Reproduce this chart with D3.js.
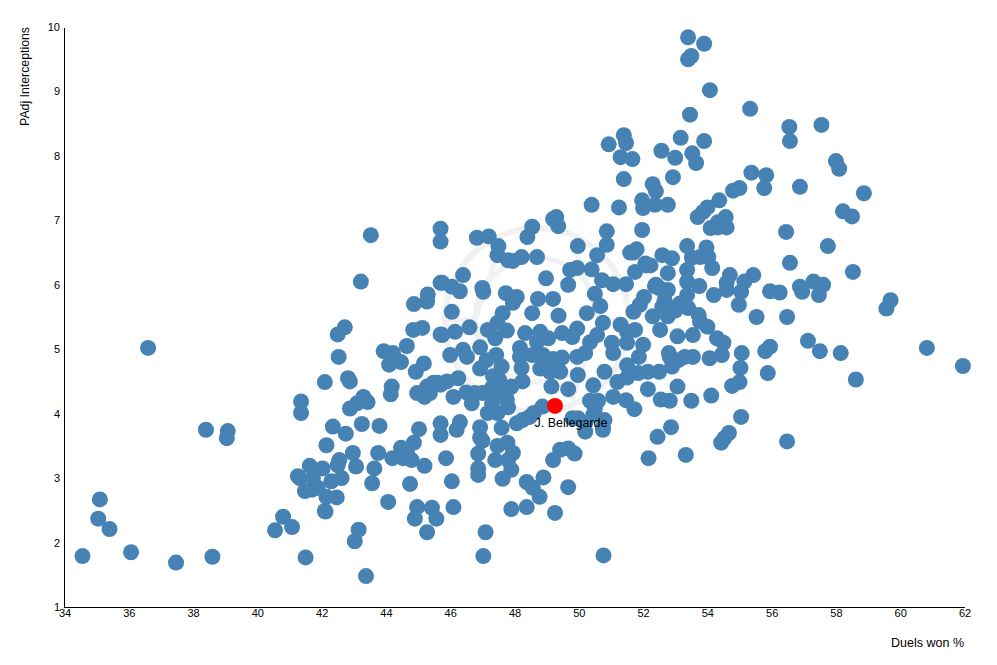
<!DOCTYPE html>
<html>
<head>
<meta charset="utf-8">
<script src="https://cdn.jsdelivr.net/npm/d3@7"></script>
<style>
html, body { margin: 0; padding: 0; background: #fff; }
svg { display: block; }
text { font-family: "Liberation Sans", Arial, sans-serif; fill: #000; }
.axis path { stroke: #000; stroke-width: 1; fill: none; shape-rendering: crispEdges; }
.axis text { font-size: 11px; }
</style>
</head>
<body>
<div id="chart"></div>
<script>
// [duels won %, padj interceptions]
var playerPoints = [
	[34.56,1.79],[35.1,2.67],[35.05,2.37],[35.4,2.21],[36.07,1.85],[37.47,1.69],[38.6,1.78],[36.6,5.02],
	[38.4,3.75],[39.08,3.73],[39.05,3.62],[40.55,2.19],[40.8,2.4],[41.08,2.24],[41.5,1.77],[43.38,1.48],
	[43.03,2.02],[43.15,2.2],[42.1,2.49],[41.36,4.19],[41.36,4.01],[42.1,4.49],[43.53,6.77],[43.22,6.05],
	[42.5,5.23],[42.72,5.34],[42.53,4.88],[42.82,4.55],[42.88,4.5],[42.88,4.08],[43.1,4.16],[43.43,4.18],
	[43.3,4.26],[42.35,3.8],[42.75,3.69],[43.25,3.84],[43.8,3.81],[42.15,3.51],[45.03,3.76],[45.7,3.85],
	[45.7,3.67],[42.97,3.39],[42.55,3.28],[42.5,3.2],[43.07,3.18],[43.76,3.39],[44.2,3.31],[44.47,3.47],
	[44.87,3.55],[44.65,3.41],[44.53,3.31],[44.8,3.28],[45.2,3.19],[43.64,3.15],[43.57,2.92],[44.75,2.91],
	[44.07,2.63],[41.63,3.19],[41.26,3.03],[41.32,3.0],[42.03,3.15],[41.73,3.0],[41.48,2.8],[41.7,2.82],
	[41.88,2.85],[42.3,2.95],[42.62,3.0],[42.15,2.71],[42.47,2.7],[42.12,2.48],[44.97,2.55],[45.43,2.54],
	[44.9,2.37],[45.57,2.37],[45.28,2.16],[43.93,4.97],[44.22,4.94],[44.1,4.76],[44.47,4.8],[44.65,5.05],
	[44.87,5.7],[45.3,5.85],[45.28,5.74],[44.85,5.3],[45.13,5.33],[44.93,4.65],[45.18,4.78],[44.18,4.42],
	[44.15,4.3],[45.48,4.48],[45.28,4.42],[44.97,4.32],[45.37,4.32],[45.2,4.26],[45.7,4.45],[45.7,6.03],
	[45.7,6.87],[45.7,6.67],[45.7,5.23],[46.83,6.73],[47.2,6.75],[47.5,6.6],[47.47,6.46],[47.8,6.38],
	[47.95,6.37],[48.22,6.43],[48.7,6.43],[48.55,6.9],[48.4,6.74],[49.3,7.05],[49.2,7.02],[49.36,6.91],
	[50.4,7.24],[51.25,7.2],[50.87,6.83],[50.87,6.62],[51.97,6.85],[49.97,6.6],[50.57,6.46],[51.6,6.5],
	[51.8,6.55],[51.7,6.5],[46.4,6.15],[45.75,6.03],[46.05,5.97],[46.3,5.9],[47.0,5.95],[47.03,5.89],
	[48.98,6.1],[49.73,6.23],[49.95,6.26],[49.67,6.0],[50.4,6.24],[50.72,6.07],[50.5,5.86],[50.67,5.67],
	[51.07,6.01],[51.47,6.01],[51.75,6.2],[52.1,6.3],[52.4,6.0],[52.03,5.81],[51.9,5.69],[51.7,5.58],
	[50.25,5.56],[49.37,5.52],[49.2,5.78],[48.73,5.78],[48.55,5.56],[47.73,5.87],[48.07,5.81],[47.95,5.72],
	[46.05,5.58],[47.63,5.56],[47.47,5.41],[46.6,5.34],[45.75,5.22],[46.15,5.27],[47.17,5.3],[47.76,5.29],
	[47.4,5.17],[48.33,5.25],[48.8,5.27],[49.48,5.25],[49.95,5.32],[49.8,5.19],[49.05,5.17],[48.7,5.11],
	[48.17,5.02],[50.75,5.41],[51.3,5.38],[51.5,5.27],[51.03,5.1],[50.57,5.22],[50.35,5.11],[51.5,5.1],
	[52.0,5.07],[51.87,4.88],[51.5,4.75],[50.8,4.65],[51.2,4.49],[51.5,4.56],[51.85,4.63],[52.15,4.65],
	[52.5,4.65],[52.83,4.88],[52.53,5.3],[52.6,5.66],[53.0,5.6],[46.0,4.91],[46.4,4.99],[46.52,4.88],
	[46.93,5.03],[46.93,4.7],[47.43,4.91],[47.13,4.83],[47.6,4.73],[47.33,4.58],[47.9,4.42],[48.25,4.5],
	[48.22,4.71],[48.17,4.88],[48.55,4.91],[48.88,4.91],[49.05,4.76],[49.48,4.87],[49.42,4.65],[49.15,4.42],
	[49.67,4.38],[49.97,4.6],[49.95,4.88],[50.2,4.94],[50.45,4.44],[50.6,4.2],[50.35,4.2],[50.5,4.08],
	[51.07,4.26],[51.47,4.21],[51.73,4.07],[52.15,4.38],[52.55,4.22],[52.83,4.2],[52.45,3.64],[49.8,3.93],
	[50.2,3.85],[49.97,3.93],[50.45,3.98],[50.8,3.9],[50.75,3.79],[48.25,3.9],[48.47,3.95],[48.07,3.85],
	[48.87,4.11],[48.6,4.01],[45.6,4.48],[45.9,4.5],[46.25,4.55],[46.1,4.26],[46.5,4.33],[46.77,4.32],
	[47.0,4.32],[46.67,4.16],[47.3,4.16],[47.17,4.01],[47.47,4.01],[47.8,4.1],[47.76,4.22],[47.6,3.78],
	[46.93,3.79],[46.3,3.87],[46.2,3.75],[46.93,3.63],[47.53,4.52],[47.85,4.4],[47.3,4.4],[47.47,4.32],
	[47.0,3.58],[47.78,3.55],[47.47,3.5],[47.95,3.39],[46.87,3.38],[47.4,3.28],[47.8,3.28],[47.9,3.13],
	[46.87,3.15],[46.87,3.05],[47.63,2.99],[45.87,3.31],[46.05,2.95],[48.38,2.94],[48.9,3.01],[48.57,2.85],
	[48.78,2.71],[47.9,2.52],[48.38,2.55],[49.26,2.46],[49.67,2.86],[49.2,3.28],[49.42,3.44],[49.67,3.46],
	[49.87,3.38],[46.1,2.55],[47.1,2.16],[47.03,1.79],[50.77,1.8],[50.2,3.72],[50.75,3.75],
	[54.1,6.88],[54.33,6.89],[54.6,6.89],[52.07,6.33],[52.23,6.3],[52.6,6.46],[52.9,6.41],[52.77,6.18],
	[53.37,6.6],[53.97,6.58],[53.52,6.42],[53.77,6.43],[54.03,6.43],[54.15,6.26],[53.37,6.23],[53.37,6.05],
	[53.75,5.98],[52.37,5.98],[52.77,5.92],[52.67,5.76],[53.37,5.84],[53.15,5.71],[53.4,5.64],[54.2,5.84],
	[54.7,6.15],[54.6,6.03],[54.6,5.92],[55.43,6.15],[55.15,6.05],[55.05,5.89],[54.98,5.69],[55.53,5.5],
	[55.95,5.9],[56.25,5.88],[53.73,5.53],[54.0,5.35],[53.77,5.43],[52.77,5.51],[52.3,5.51],[51.75,5.3],
	[53.07,5.2],[53.55,5.22],[54.3,5.17],[54.5,5.1],[54.45,4.91],[54.07,4.86],[55.07,4.94],[55.95,5.04],
	[55.8,4.97],[55.88,4.63],[55.03,4.71],[55.0,4.49],[54.77,4.43],[52.8,4.94],[53.55,4.88],[53.3,4.88],
	[53.1,4.83],[52.9,4.73],[51.07,4.94],[53.07,4.42],[53.5,4.2],[54.12,4.28],[52.5,5.95],[52.77,5.66],
	[53.4,9.84],[53.9,9.74],[53.5,9.55],[53.4,9.5],[54.08,9.02],[55.33,8.73],[53.46,8.64],[51.4,8.32],
	[51.47,8.2],[50.93,8.18],[51.3,7.98],[51.67,7.95],[53.17,8.28],[53.9,8.23],[52.57,8.08],[53.0,7.97],
	[53.53,8.04],[53.65,7.89],[52.93,7.67],[51.4,7.64],[52.3,7.56],[52.4,7.45],[51.97,7.31],[52.0,7.19],
	[52.37,7.24],[52.77,7.24],[55.37,7.74],[55.83,7.7],[55.77,7.5],[55.0,7.5],[54.8,7.46],[54.37,7.31],
	[54.0,7.2],[53.7,7.05],[53.87,7.13],[54.57,7.05],[54.33,6.97],
	[56.55,8.45],[56.57,8.23],[57.55,8.48],[58.0,7.92],[58.1,7.8],[58.87,7.42],[56.88,7.52],[58.22,7.14],
	[58.5,7.06],[57.75,6.6],[56.45,6.82],[56.57,6.34],[58.53,6.2],[57.3,6.05],[57.6,6.0],[56.88,5.97],
	[56.95,5.89],[57.47,5.84],[56.48,5.5],[57.13,5.13],[57.5,4.97],[58.15,4.94],[58.62,4.53],[59.57,5.63],
	[59.7,5.76],[60.83,5.02],[61.95,4.74],[56.48,3.57],[55.05,3.95],[54.67,3.7],[54.53,3.62],[54.43,3.55],
	[53.33,3.36],[52.17,3.31],[52.87,3.79],
	[48.9,4.8],[49.2,4.85],[49.3,4.7],[48.8,4.7],[49.1,4.65]
];
var highlightPoint = [49.26, 4.12];
var highlightName = "J. Bellegarde";
var xTicks = [34,36,38,40,42,44,46,48,50,52,54,56,58,60,62];
var yTicks = [1,2,3,4,5,6,7,8,9,10];
var xTitle = "Duels won %";
var yTitle = "PAdj Interceptions";

var WIDTH = 997, HEIGHT = 665;
var left = 64.5, right = 964.5, top_ = 27, bottom = 607;
var radius = 8;

var svg = d3.select("#chart").append("svg")
	.attr("width", WIDTH)
	.attr("height", HEIGHT);

var x = d3.scaleLinear().domain([34, 62]).range([left, right]);
var y = d3.scaleLinear().domain([1, 10]).range([bottom, top_]);

// faint logo behind the points
var logo = svg.append("g")
	.attr("transform", "translate(537,320)")
	.attr("fill", "none")
	.attr("stroke", "#f1f1f1");
logo.append("circle").attr("r", 92).attr("stroke-width", 6);
logo.append("circle").attr("r", 62).attr("stroke-width", 5);
logo.append("path").attr("stroke-width", 5)
	.attr("d", "M-35,-80L-62,0L-35,80M35,-80L62,0L35,80M-92,0L-62,0M92,0L62,0");

svg.append("g").attr("class", "axis")
	.attr("transform", "translate(0," + bottom + ")")
	.call(d3.axisBottom(x).tickValues(xTicks).tickFormat(d3.format("d")).tickSize(0).tickPadding(2));

svg.append("g").attr("class", "axis")
	.attr("transform", "translate(" + (left - 0.5) + ",0)")
	.call(d3.axisLeft(y).tickValues(yTicks).tickFormat(d3.format("d")).tickSize(0).tickPadding(4));

svg.selectAll("circle.player")
	.data(playerPoints)
	.enter().append("circle")
		.attr("class", "player")
		.attr("cx", function(d) { return x(d[0]); })
		.attr("cy", function(d) { return y(d[1]); })
		.attr("r", radius)
		.attr("fill", "steelblue");

svg.append("circle")
	.attr("cx", x(highlightPoint[0]))
	.attr("cy", y(highlightPoint[1]))
	.attr("r", radius)
	.attr("fill", "red");

// label starts left of the point, not centred on it
svg.append("text")
	.attr("x", x(highlightPoint[0]) - 20.5)
	.attr("y", y(highlightPoint[1]) + 21)
	.attr("font-size", "12.5px")
	.text(highlightName);

svg.append("text")
	.attr("x", right - 0.5)
	.attr("y", 647)
	.attr("text-anchor", "end")
	.attr("font-size", "12.5px")
	.text(xTitle);

svg.append("text")
	.attr("transform", "translate(29," + top_ + ")rotate(-90)")
	.attr("text-anchor", "end")
	.attr("font-size", "12.3px")
	.text(yTitle);
</script>
</body>
</html>
